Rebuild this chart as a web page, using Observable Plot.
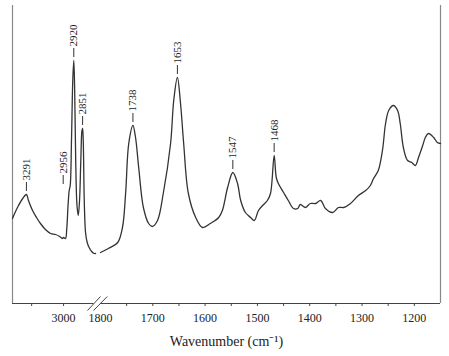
<!DOCTYPE html>
<html><head><meta charset="utf-8">
<script src="https://cdn.jsdelivr.net/npm/d3@7"></script>
<script src="https://cdn.jsdelivr.net/npm/@observablehq/plot@0.6"></script>
<style>body{margin:0;background:#fff} #chart svg{display:block}</style>
</head><body><div id="chart"></div>
<script>
// C-H stretch region (left of the axis break)
const leftWn  = [3400,3380,3353,3320,3291,3275,3243,3212,3181,3142,3102,3063,3030,3010,3000,2985,2975,2965,2956,2948,2938,2928,2920,2913,2905,2895,2885,2875,2865,2856,2851,2846,2838,2828,2815,2800,2780,2760,2750];
const leftAbs = [85,91,98,105,109,103,93,86,80,74,70,69,67,65,66,65,75,98,113,118,163,223,243,213,143,98,88,103,143,173,175,163,103,71,61,56,52,50,50];
// Fingerprint region (right of the axis break)
const rightWn  = [1800,1785,1767,1758,1752,1746,1738,1733,1727,1718,1708,1701,1691,1680,1666,1660,1653,1647,1641,1632,1618,1605,1590,1574,1567,1557,1547,1538,1532,1523,1513,1506,1498,1490,1481,1475,1468,1464,1460,1450,1441,1431,1423,1418,1408,1399,1389,1379,1370,1356,1345,1335,1322,1307,1293,1284,1278,1269,1261,1255,1249,1240,1232,1227,1221,1213,1205,1198,1192,1184,1179,1173,1163,1156,1150];
const rightAbs = [51,55,61,76,110,160,178,166,136,96,80,77,83,110,160,203,226,200,160,110,86,76,80,86,93,116,131,120,103,91,86,83,93,98,103,110,148,126,120,111,103,95,95,99,96,100,100,103,95,91,96,96,100,108,113,118,125,133,153,180,193,198,193,180,156,143,141,138,146,158,166,170,166,161,160];

const peakWn    = [3291,2956,2920,2851,1738,1653,1547,1468];
const peakAbs   = [109,116,243,175,178,226,131,148];
const peakShift = [0,-6,0,0,0,0,0,0];

const xDomain   = [3400, 2750, 1800, 1150];
const tickValues = [3250,3000,1750,1700,1650,1600,1550,1500,1450,1400,1350,1300,1250,1200];
const tickLabels = [3000,1800,1700,1600,1500,1400,1300,1200];
const breakMarks = [{x1:2813,y1:-7,x2:1800,y2:7},{x1:2766,y1:-7,x2:1787,y2:7}];
const axisTitle = "Wavenumber (cm⁻¹)";

// broken axis: piecewise mapping of wavenumber onto a continuous axis coordinate
const brk = d3.scaleLinear().domain(xDomain).range([0, 83, 88, 428]);

const rows = [
  ...leftWn.map((w,i)=>({u:brk(w), a:leftAbs[i], seg:"CH"})),
  ...rightWn.map((w,i)=>({u:brk(w), a:rightAbs[i], seg:"FP"}))
];
const peaks = peakWn.map((w,i)=>({u:brk(w) + peakShift[i], a:peakAbs[i], label:String(w)}));
const links = breakMarks.map(d => ({x1:brk(d.x1), x2:brk(d.x2), y1:d.y1, y2:d.y2}));
const serif = "'Liberation Serif','Times New Roman',serif";

const chart = Plot.plot({
  width: 449, height: 356,
  marginTop: 5, marginBottom: 53, marginLeft: 12, marginRight: 9,
  style: {fontFamily: serif, background: "#fff"},
  x: {domain: [0, 428], label: null, axis: null},
  y: {domain: [0, 298], axis: null},
  marks: [
    Plot.ruleX([brk(3400)], {stroke: "#888", strokeWidth: 1.2}),
    Plot.ruleX([brk(1150)], {stroke: "#888", strokeWidth: 1.2}),
    Plot.ruleY([0], {x1: brk(3400), x2: brk(2762), stroke: "#444", strokeWidth: 1.1}),
    Plot.ruleY([0], {x1: brk(1800), x2: brk(1150), stroke: "#444", strokeWidth: 1.1}),
    Plot.link(links, {x1:"x1", y1:"y1", x2:"x2", y2:"y2", stroke:"#444", strokeWidth:1}),
    Plot.axisX(tickValues.map(brk), {tickSize: 3, tickFormat: () => "", label: null, stroke: "#444"}),
    Plot.axisX(tickLabels.map(brk), {tickSize: 0, tickPadding: 10, fontSize: 12, fill: "#222", label: null, fontFamily: serif,
      tickFormat: u => String(Math.round(brk.invert(u)))}),
    Plot.line(rows, {x: "u", y: "a", z: "seg", stroke: "#333", strokeWidth: 1.3, curve: "catmull-rom"}),
    Plot.ruleX(peaks, {x: "u", y1: d => d.a + 3, y2: d => d.a + 12, stroke: "#333", strokeWidth: 1}),
    Plot.text(peaks, {x: "u", y: d => d.a + 14, text: "label", rotate: -90, textAnchor: "start", fontSize: 11, fill: "#222", fontFamily: serif}),
    Plot.text([axisTitle], {text: d => d, frameAnchor: "bottom", dy: 42, fontSize: 14, fill: "#222", fontFamily: serif})
  ]
});
document.getElementById("chart").append(chart);
</script>
</body></html>
